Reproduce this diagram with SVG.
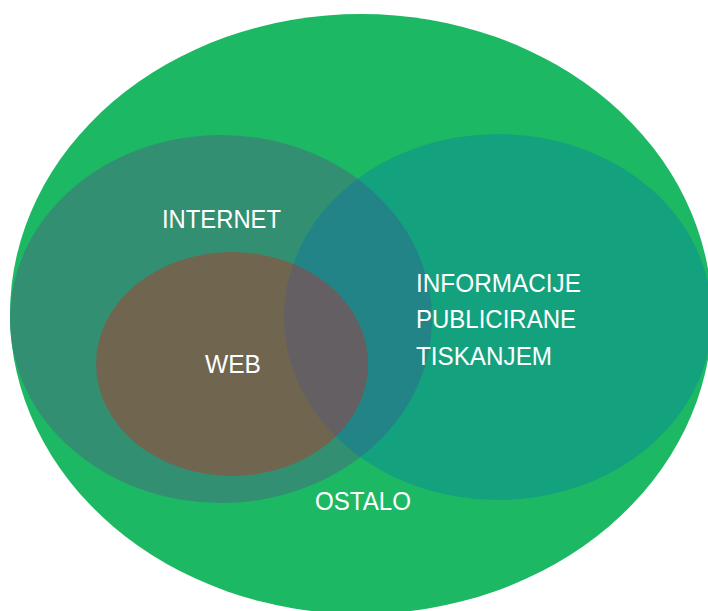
<svg xmlns="http://www.w3.org/2000/svg" width="708" height="611" viewBox="0 0 708 611">
<style>
.lbl{font-family:"Liberation Sans",Arial,sans-serif;font-size:25px;fill:#ffffff}
</style>
<defs>
<clipPath id="clipLeft"><ellipse cx="221" cy="319" rx="211" ry="184"/></clipPath>
<clipPath id="clipRight"><ellipse cx="498" cy="317" rx="214" ry="183"/></clipPath>
</defs>
<rect width="708" height="611" fill="#ffffff"/>
<g id="ostalo">
<ellipse cx="361" cy="314" rx="351" ry="300" fill="#1db863"/>
<text class="lbl" x="315" y="510" textLength="96" lengthAdjust="spacingAndGlyphs">OSTALO</text>
</g>
<g id="internet">
<ellipse cx="221" cy="319" rx="211" ry="184" fill="#338f72"/>
</g>
<g id="tisak">
<ellipse cx="498" cy="317" rx="214" ry="183" fill="#14a27e"/>
<g clip-path="url(#clipLeft)"><ellipse cx="498" cy="317" rx="214" ry="183" fill="#238487"/></g>
</g>
<g id="web">
<ellipse cx="232" cy="364" rx="136" ry="112" fill="#70664f"/>
<g clip-path="url(#clipRight)"><ellipse cx="232" cy="364" rx="136" ry="112" fill="#645f62"/></g>
</g>
<g id="labels">
<text class="lbl" x="162" y="228" textLength="119" lengthAdjust="spacingAndGlyphs">INTERNET</text>
<text class="lbl" x="205" y="373" textLength="56" lengthAdjust="spacingAndGlyphs">WEB</text>
<text class="lbl" x="416" y="292" textLength="165" lengthAdjust="spacingAndGlyphs">INFORMACIJE</text>
<text class="lbl" x="416" y="328" textLength="160" lengthAdjust="spacingAndGlyphs">PUBLICIRANE</text>
<text class="lbl" x="416" y="365" textLength="136" lengthAdjust="spacingAndGlyphs">TISKANJEM</text>
</g>
<g id="connectors"/>
</svg>
